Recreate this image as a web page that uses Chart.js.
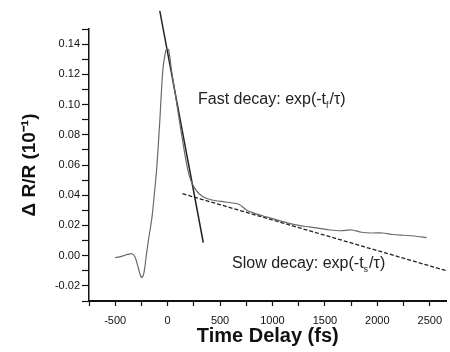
<!DOCTYPE html>
<html>
<head>
<meta charset="utf-8">
<script src="https://cdn.jsdelivr.net/npm/chart.js@4"></script>
<style>
  html, body { margin: 0; padding: 0; background: #fff; }
  #wrap { width: 450px; height: 352px; }
</style>
</head>
<body>
<div id="wrap"><canvas id="decayChart"></canvas></div>
<script>
// measured signal (fs, ΔR/R)
const timeDelay = [-500, -460, -420, -380, -340, -310, -280, -260, -245, -225, -200, -175, -150, -125, -104, -75, -47, -25, -9, 10, 38, 75, 113, 150, 189, 220, 255, 300, 368, 450, 550, 679, 755, 850, 950, 1050, 1150, 1250, 1350, 1450, 1550, 1650, 1750, 1850, 1950, 2050, 2150, 2250, 2350, 2470];
const deltaR = [-0.0013, -0.0008, 0.0000, 0.0008, 0.0013, -0.0010, -0.0080, -0.0130, -0.0145, -0.0110, 0.0020, 0.0140, 0.0250, 0.0420, 0.0580, 0.0890, 0.1220, 0.1330, 0.1370, 0.1360, 0.1220, 0.1060, 0.0890, 0.0730, 0.0580, 0.0500, 0.0450, 0.0410, 0.0380, 0.0365, 0.0355, 0.0340, 0.0300, 0.0275, 0.0255, 0.0235, 0.0215, 0.0200, 0.0190, 0.0180, 0.0170, 0.0165, 0.0170, 0.0155, 0.0150, 0.0150, 0.0140, 0.0135, 0.0130, 0.0120];

// fitted lines (end points)
const fastFitX = [-75, 340];
const fastFitY = [0.162, 0.0086];
const slowFitX = [142, 2660];
const slowFitY = [0.041, -0.0100];

const xTicks = [-500, 0, 500, 1000, 1500, 2000, 2500];
const yTicks = [-0.02, 0.00, 0.02, 0.04, 0.06, 0.08, 0.10, 0.12, 0.14];

function toPoints(xs, ys) {
    return xs.map((x, i) => ({ x: x, y: ys[i] }));
}

// annotation text with subscripts
const notes = {
    id: 'notes',
    afterDatasetsDraw(chart) {
        const ctx = chart.ctx;
        const draw = (x, y, sub) => {
            ctx.save();
            ctx.fillStyle = '#222';
            ctx.textBaseline = 'alphabetic';
            ctx.font = '16px "Liberation Sans", Arial, sans-serif';
            let t = (sub === 'f' ? 'Fast' : 'Slow') + ' decay: exp(-t';
            ctx.fillText(t, x, y);
            let w = ctx.measureText(t).width;
            ctx.font = '9px "Liberation Sans", Arial, sans-serif';
            ctx.fillText(sub, x + w, y + 4);
            w += ctx.measureText(sub).width + 1;
            ctx.font = '16px "Liberation Sans", Arial, sans-serif';
            ctx.fillText('/τ)', x + w, y);
            ctx.restore();
        };
        draw(198, 104, 'f');
        draw(232, 268, 's');
    }
};

new Chart(document.getElementById('decayChart').getContext('2d'), {
    type: 'scatter',
    data: {
        datasets: [{
            data: toPoints(timeDelay, deltaR),
            showLine: true,
            borderColor: '#6a6a6a',
            borderWidth: 1.2,
            pointRadius: 0,
            tension: 0.3
        }, {
            data: toPoints(fastFitX, fastFitY),
            showLine: true,
            borderColor: '#222',
            borderWidth: 1.5,
            pointRadius: 0,
            clip: false
        }, {
            data: toPoints(slowFitX, slowFitY),
            showLine: true,
            borderColor: '#222',
            borderWidth: 1.3,
            borderDash: [4, 2],
            pointRadius: 0
        }]
    },
    options: {
        responsive: true,
        maintainAspectRatio: false,
        animation: false,
        layout: { padding: { top: 29, right: 0, left: 14 } },
        plugins: {
            legend: { display: false },
            tooltip: { enabled: false }
        },
        scales: {
            x: {
                type: 'linear',
                min: -750,
                max: 2660,
                afterBuildTicks: (scale) => {
                    const t = [];
                    for (let v = -750; v <= 2500; v += 250) t.push({ value: v });
                    scale.ticks = t;
                },
                afterFit: (scale) => { scale.height = 51; },
                ticks: {
                    autoSkip: false,
                    maxRotation: 0,
                    color: '#111',
                    font: { family: '"Liberation Sans", Arial', size: 11 },
                    padding: 8,
                    callback: (v) => xTicks.includes(v) ? String(v) : ''
                },
                grid: {
                    drawOnChartArea: false,
                    tickLength: 5,
                    tickColor: '#111',
                    tickWidth: 1.2
                },
                border: { color: '#111', width: 2 },
                title: {
                    display: true,
                    text: 'Time Delay (fs)',
                    color: '#111',
                    font: { family: '"Liberation Sans", Arial', size: 20, weight: 'bold' },
                    padding: { top: 0 }
                }
            },
            y: {
                min: -0.03,
                max: 0.15,
                afterBuildTicks: (scale) => {
                    const t = [];
                    for (let i = -3; i <= 15; i++) t.push({ value: i / 100 });
                    scale.ticks = t;
                },
                afterFit: (scale) => { scale.width = 75; },
                ticks: {
                    autoSkip: false,
                    color: '#111',
                    font: { family: '"Liberation Sans", Arial', size: 11 },
                    padding: 2,
                    callback: (v) => yTicks.some(t => Math.abs(t - v) < 1e-6) ? v.toFixed(2) : ''
                },
                grid: {
                    drawOnChartArea: false,
                    tickLength: 7,
                    tickColor: '#111',
                    tickWidth: 1.2
                },
                border: { color: '#111', width: 1.5 },
                title: {
                    display: true,
                    text: 'Δ R/R (10⁻¹)',
                    color: '#111',
                    font: { family: '"Liberation Sans", Arial', size: 19, weight: 'bold' },
                    padding: { bottom: 4 }
                }
            }
        }
    },
    plugins: [notes]
});
</script>
</body>
</html>
